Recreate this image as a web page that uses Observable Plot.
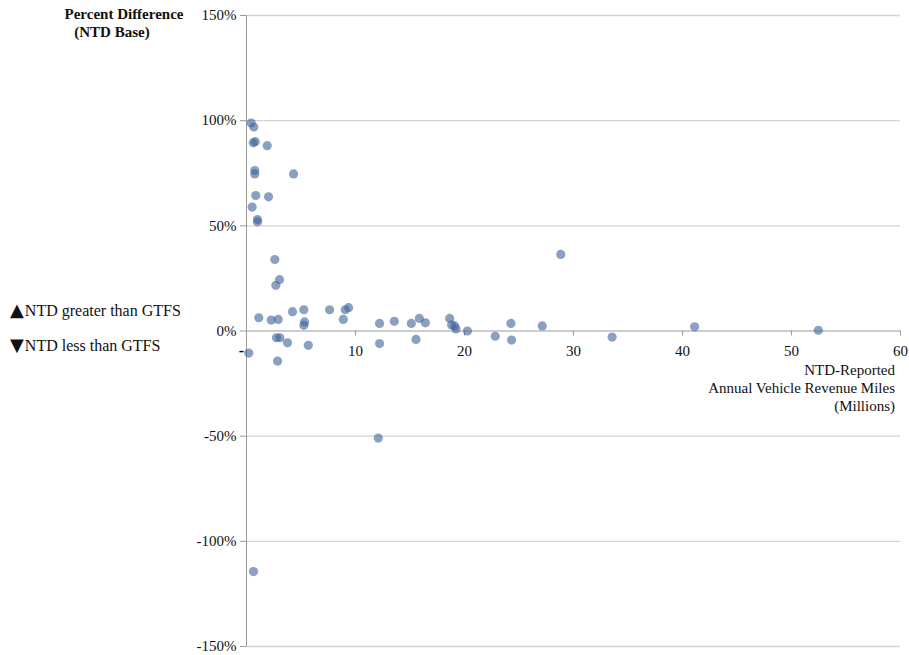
<!DOCTYPE html>
<html>
<head>
<meta charset="utf-8">
<script src="https://cdn.jsdelivr.net/npm/d3@7"></script>
<script src="https://cdn.jsdelivr.net/npm/@observablehq/plot@0.6"></script>
<style>
  html, body { margin: 0; padding: 0; background: #fff; }
  #chart { width: 909px; height: 655px; }
</style>
</head>
<body>
<div id="chart"></div>
<script>
// NTD-reported annual vehicle revenue miles (millions)
const vrmMillions = [
  0.43, 0.67, 0.62, 0.80, 1.90, 0.76, 0.76, 4.32, 0.85, 2.02,
  0.52, 1.01, 1.01, 2.60, 3.03, 2.69, 1.13, 2.27, 2.91, 4.22,
  5.26, 5.33, 5.26, 7.62, 8.88, 9.06, 9.37, 2.75, 3.06, 3.76,
  5.67, 0.21, 2.85, 12.21, 12.21, 13.56, 15.12, 15.86, 16.41, 15.55,
  18.64, 18.82, 19.10, 19.22, 20.27, 22.82, 24.26, 24.32, 27.13, 28.83,
  33.54, 41.11, 52.46, 12.09, 0.64
];
// Percent difference (NTD base)
const pctDiff = [
  98.9, 97.0, 89.5, 90.0, 88.1, 76.3, 74.7, 74.7, 64.4, 63.8,
  58.9, 53.0, 51.9, 34.0, 24.4, 21.7, 6.3, 5.2, 5.5, 9.2,
  10.1, 4.3, 2.7, 10.1, 5.5, 10.1, 11.1, -3.2, -3.2, -5.6,
  -6.8, -10.5, -14.3, 3.6, -6.0, 4.6, 3.6, 6.0, 3.9, -4.0,
  6.0, 2.9, 2.4, 1.0, 0.0, -2.5, 3.6, -4.3, 2.4, 36.4,
  -2.9, 2.0, 0.3, -50.9, -114.4
];
const xTicks = [0, 10, 20, 30, 40, 50, 60];
const xTickLabels = ["-", "10", "20", "30", "40", "50", "60"];
const yTicks = [-150, -100, -50, 0, 50, 100, 150];
const gridLevels = [-150, -100, -50, 50, 100, 150];
const yTitle = ["Percent Difference", "(NTD Base)"];
const xTitle = ["NTD-Reported", "Annual Vehicle Revenue Miles", "(Millions)"];
const legendSymbols = ["\u25B2", "\u25BC"];
const legendItems = ["NTD greater than GTFS", "NTD less than GTFS"];

const points = vrmMillions.map((x, i) => ({x, y: pctDiff[i]}));
const xLabelData = xTicks.map((x, i) => ({x, label: xTickLabels[i]}));

const serif = "'Liberation Serif', 'Times New Roman', serif";

const chart = Plot.plot({
  width: 909,
  height: 655,
  marginLeft: 246,
  marginRight: 9,
  marginTop: 15,
  marginBottom: 9,
  style: {fontFamily: serif, fontSize: "15px", background: "#fff", color: "#000", overflow: "visible"},
  x: {domain: [0, 60], axis: null},
  y: {domain: [-150, 150], axis: null},
  marks: [
    Plot.ruleY(gridLevels, {x1: 0, x2: 60, stroke: "#d4d4d4", strokeWidth: 1.3}),
    Plot.ruleX([0], {y1: -150, y2: 150, stroke: "#9a9a9a", strokeWidth: 1}),
    Plot.ruleY([0], {x1: 0, x2: 60, stroke: "#9a9a9a", strokeWidth: 1}),
    Plot.ruleX(xTicks.slice(1), {x: d => d, y1: 0, y2: 0, insetBottom: -5, stroke: "#9a9a9a"}),
    Plot.axisY(yTicks, {
      anchor: "left",
      tickSize: 6,
      tickPadding: 4,
      tickFormat: d => d + "%",
      stroke: "#9a9a9a",
      fill: "#111",
      fontSize: 15,
      label: null
    }),
    Plot.text(xLabelData.slice(1), {
      x: "x", y: 0, text: "label", dy: 20,
      fill: "#111", fontSize: 15
    }),
    Plot.dot(points, {x: "x", y: "y", r: 4.6, fill: "#3d6399", fillOpacity: 0.6, stroke: "none"}),
    Plot.text(xLabelData.slice(0, 1), {
      x: "x", y: 0, text: "label", dy: 20, dx: -5,
      fill: "#000", fontSize: 16, fontWeight: "bold"
    })
  ]
});

document.getElementById("chart").appendChild(chart);

// Annotations outside the plotting frame
const svg = d3.select(chart);
const title = svg.append("g").attr("font-family", serif).attr("font-weight", "bold").attr("font-size", 15).attr("fill", "#111");
title.append("text").attr("x", 124).attr("y", 19).attr("text-anchor", "middle").text(yTitle[0]);
title.append("text").attr("x", 112).attr("y", 37).attr("text-anchor", "middle").text(yTitle[1]);

const legend = svg.append("g").attr("font-family", serif).attr("font-size", 16).attr("fill", "#111").attr("text-anchor", "start");
[316, 351].forEach((y, i) => {
  const t = legend.append("text").attr("x", 10).attr("y", y);
  t.append("tspan").attr("font-size", 18).attr("font-family", "'DejaVu Sans', sans-serif").attr("dx", 0).text(legendSymbols[i]);
  t.append("tspan").attr("dx", 1).text(legendItems[i]);
});

const xt = svg.append("g").attr("font-family", serif).attr("font-size", 15).attr("fill", "#111").attr("text-anchor", "end");
xTitle.forEach((t, i) => xt.append("text").attr("x", 895).attr("y", 375 + i * 18).text(t));
</script>
</body>
</html>
